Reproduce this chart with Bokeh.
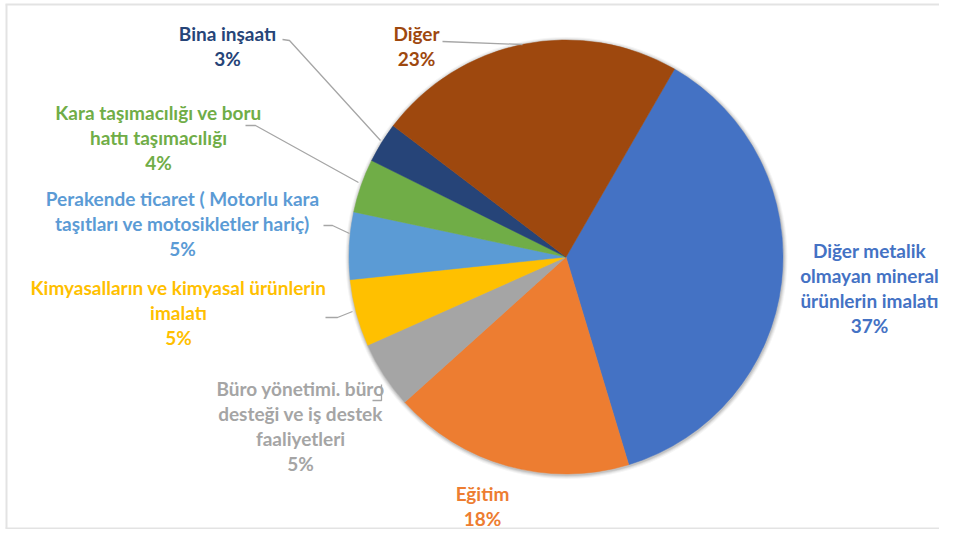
from bokeh.plotting import figure
from bokeh.models import Range1d, ColumnDataSource
from bokeh.core.properties import value
from bokeh.embed import file_html
from bokeh.resources import INLINE

# ---- data ----
categories = [
    "Diğer metalik\nolmayan mineral\nürünlerin imalatı",
    "Eğitim",
    "Büro yönetimi. büro\ndesteği ve iş destek\nfaaliyetleri",
    "Kimyasalların ve kimyasal ürünlerin\nimalatı",
    "Perakende ticaret ( Motorlu kara\ntaşıtları ve motosikletler hariç)",
    "Kara taşımacılığı ve boru\nhattı taşımacılığı",
    "Bina inşaatı",
    "Diğer",
]
values = [37, 18, 5, 5, 5, 4, 3, 23]
pct_labels = ["37%", "18%", "5%", "5%", "5%", "4%", "3%", "23%"]

# ---- styles / layout ----
colors = ["#4472C4", "#ED7D31", "#A5A5A5", "#FFC000", "#5B9BD5", "#70AD47", "#264478", "#9E480E"]
W, H = 939, 529


def px(x):
    return x


def py(y):
    return H - y


# label anchor (centre x, first-line centre y) in screen pixels
label_pos = [(869, 250), (482, 493), (300, 388), (178, 287), (182, 198), (158, 112), (227, 33), (416, 33)]
line_step = 25
leaders = [
    None,
    None,
    [(372, 400), (381, 400), (381, 384)],
    [(325, 317), (337, 317), (352, 311)],
    [(323, 225), (332, 225), (349, 233)],
    [(245, 125), (255, 125), (358, 182)],
    [(282, 39), (289, 40), (380, 140)],
    [(442, 41), (522, 44)],
]

cx, cy, r = px(565.5), py(256.5), 217.0
first_angle = 30.0  # degrees clockwise from 12 o'clock

p = figure(width=W, height=H, output_backend="svg", toolbar_location=None,
           x_range=Range1d(0, W), y_range=Range1d(0, H), min_border=0)
p.axis.visible = False
p.grid.visible = False
p.outline_line_color = None
p.background_fill_color = "white"

# frame (top, left, bottom)
p.multi_line(xs=[[px(5), W], [px(6), px(6)], [px(5), W]],
             ys=[[py(4), py(4)], [py(4), 1], [1, 1]],
             line_color="#E3E3E3", line_width=2)

# soft shadow
for k, a in [(4, 0.04), (3, 0.05), (2, 0.07), (1, 0.09)]:
    p.circle(x=[cx + 0.5], y=[cy - 1], radius=r + k, fill_color="#000000",
             fill_alpha=a, line_color=None)

total = float(sum(values))
starts, ends = [], []
cum = 0.0
for v in values:
    a0 = 90 - first_angle - (cum + v) / total * 360.0
    a1 = 90 - first_angle - cum / total * 360.0
    starts.append(a0)
    ends.append(a1)
    cum += v

src = ColumnDataSource(dict(start=starts, end=ends, color=colors))
p.wedge(x=cx, y=cy, radius=r, start_angle="start", end_angle="end",
        start_angle_units="deg", end_angle_units="deg",
        fill_color="color", line_color="color", line_width=0.5,
        source=src)

# leader lines
lx, ly = [], []
for ld in leaders:
    if ld:
        lx.append([px(a) for a, b in ld])
        ly.append([py(b) for a, b in ld])
p.multi_line(xs=lx, ys=ly, line_color="#A6A6A6", line_width=1.3)

# labels
tx, ty, tt, tc = [], [], [], []
for cat, pct, col, (x0, y0) in zip(categories, pct_labels, colors, label_pos):
    lines = cat.split("\n") + [pct]
    for i, ln in enumerate(lines):
        tx.append(px(x0))
        ty.append(py(y0 + i * line_step))
        tt.append(ln)
        tc.append(col)

tsrc = ColumnDataSource(dict(x=tx, y=ty, text=tt, color=tc))
p.text(x="x", y="y", text="text", source=tsrc, text_color="color",
       text_font=value("Lato"), text_font_style="bold", text_font_size="19px",
       text_align="center", text_baseline="middle")

open("out.html", "w").write(file_html(p, INLINE))
